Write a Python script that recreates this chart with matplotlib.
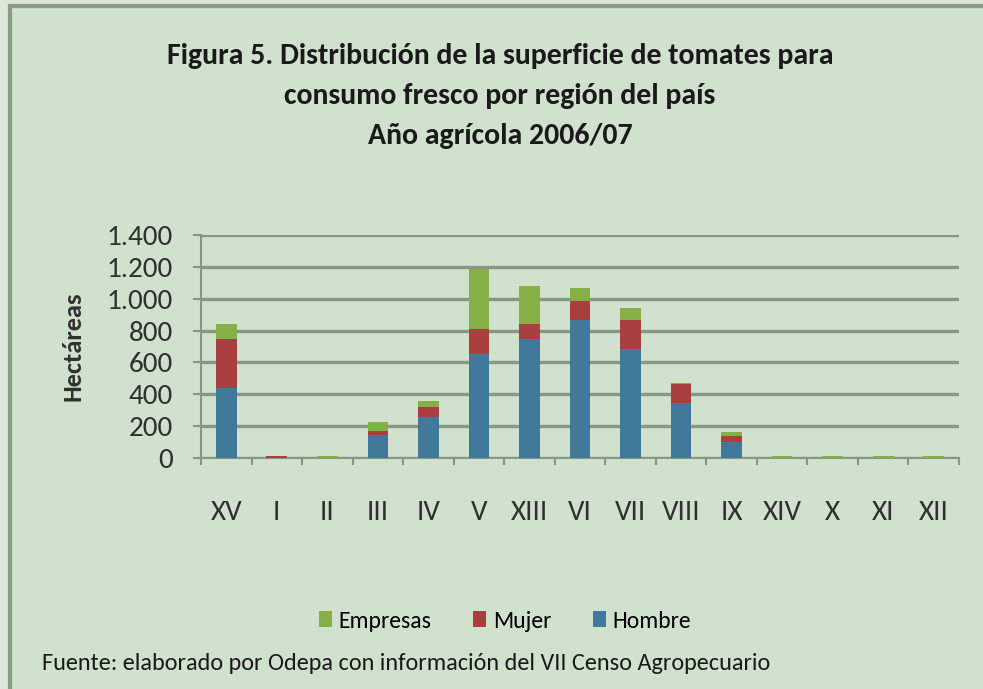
import numpy as np
import matplotlib.pyplot as plt
from matplotlib.patches import Rectangle

regiones = ['XV', 'I', 'II', 'III', 'IV', 'V', 'XIII', 'VI', 'VII', 'VIII', 'IX', 'XIV', 'X', 'XI', 'XII']
hombre = [441, 0, 0, 147, 260, 651, 747, 869, 682, 344, 103, 0, 0, 0, 0]
mujer = [306, 12, 0, 21, 59, 162, 93, 116, 187, 123, 38, 0, 0, 0, 0]
empresas = [93, 0, 12, 56, 36, 374, 241, 80, 74, 6, 25, 12, 12, 12, 12]
yticks = [0, 200, 400, 600, 800, 1000, 1200, 1400]
ytick_labels = ['0', '200', '400', '600', '800', '1.000', '1.200', '1.400']

bg = '#D0E1CD'
outer = '#DCE7D9'
c_hombre = '#41799B'
c_mujer = '#A9403F'
c_empresas = '#86AF46'
grid_c = '#869783'
txt_c = '#303030'

plt.rcParams['font.family'] = ['Carlito', 'Liberation Sans Narrow', 'DejaVu Sans']

fig = plt.figure(figsize=(9.83, 6.89), dpi=100, facecolor=outer)

# fondo del gráfico con borde superior e izquierdo
fig.patches.append(Rectangle((10 / 983, -0.02), 1.1, 1 - 6 / 689 + 0.02, transform=fig.transFigure,
                             facecolor=bg, edgecolor='#8A9B86', linewidth=3, zorder=-10))

ax = fig.add_axes([201 / 983, 1 - 458 / 689, 758 / 983, 223 / 689])
ax.set_facecolor(bg)

x = np.arange(len(regiones))
h = np.array(hombre)
m = np.array(mujer)
e = np.array(empresas)
ax.bar(x, h, width=0.41, color=c_hombre, label='Hombre', zorder=3)
ax.bar(x, m, width=0.41, bottom=h, color=c_mujer, label='Mujer', zorder=3)
ax.bar(x, e, width=0.41, bottom=h + m, color=c_empresas, label='Empresas', zorder=3)

ax.set_xlim(-0.5, len(regiones) - 0.5)
ax.set_ylim(0, 1400)
ax.set_yticks(yticks)
ax.set_yticklabels(ytick_labels, fontsize=21, color=txt_c)
ax.yaxis.grid(True, color=grid_c, linewidth=2.4, zorder=0)

ax.set_xticks(x)
ax.set_xticklabels(regiones, fontsize=21, color=txt_c)
ax.set_xticks(np.arange(-0.5, len(regiones)), minor=True)
ax.tick_params(axis='x', which='major', length=0, pad=30)
ax.tick_params(axis='x', which='minor', length=5, color=grid_c, width=1.5)
ax.tick_params(axis='y', length=6, color=grid_c, width=1.5, pad=14)

for side in ['top', 'right']:
    ax.spines[side].set_visible(False)
for side in ['left', 'bottom']:
    ax.spines[side].set_color(grid_c)
    ax.spines[side].set_linewidth(1.5)

ax.set_ylabel('Hectáreas', fontsize=19, fontweight='bold', labelpad=16, color=txt_c)

fig.text(500 / 983, 1 - 96 / 689,
         'Figura 5. Distribución de la superficie de tomates para\nconsumo fresco por región del país\nAño agrícola 2006/07',
         ha='center', va='center', fontsize=21.5, fontweight='bold', linespacing=1.65, color='#1a1a1a')

handles, labels = ax.get_legend_handles_labels()
fig.legend(handles[::-1], labels[::-1], loc='center', bbox_to_anchor=(505 / 983, 1 - 621 / 689),
           ncol=3, frameon=False, fontsize=17, handlelength=0.55, handleheight=0.65,
           handletextpad=0.3, columnspacing=1.75)

fig.text(42 / 983, 1 - 663 / 689,
         'Fuente: elaborado por Odepa con información del VII Censo Agropecuario',
         ha='left', va='center', fontsize=17.5, color='#1a1a1a')

fig.savefig('out.png', dpi=100, facecolor=outer)
